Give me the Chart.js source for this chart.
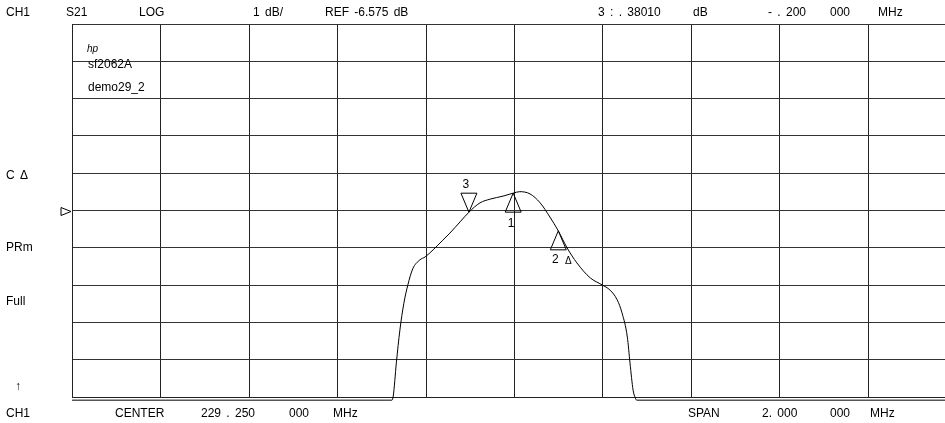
<!DOCTYPE html>
<html>
<head>
<meta charset="utf-8">
<script src="https://cdn.jsdelivr.net/npm/chart.js@4.4.1/dist/chart.umd.min.js"></script>
<style>
  html, body { margin: 0; padding: 0; background: #fff; overflow: hidden; width: 945px; height: 423px; }
  #wrap { position: relative; width: 945px; height: 423px; overflow: hidden; }
  #c { position: absolute; left: 0; top: 0; }
  .t { position: absolute; font-family: "Liberation Sans", Arial, sans-serif; font-size: 12px; line-height: 14px; color: #000; white-space: pre; word-spacing: 2px; }
</style>
</head>
<body>
<div id="wrap">
  <canvas id="c" width="960" height="423"></canvas>
  <!-- header line -->
  <div class="t" style="left:6px;top:5px">CH1</div>
  <div class="t" style="left:66px;top:5px">S21</div>
  <div class="t" style="left:139px;top:5px">LOG</div>
  <div class="t" style="left:253px;top:5px">1 dB/</div>
  <div class="t" style="left:325px;top:5px">REF -6.575 dB</div>
  <div class="t" style="left:598px;top:5px">3 : . 38010</div>
  <div class="t" style="left:693px;top:5px">dB</div>
  <div class="t" style="left:768px;top:5px">- . 200</div>
  <div class="t" style="left:830px;top:5px">000</div>
  <div class="t" style="left:878px;top:5px">MHz</div>
  <!-- left side -->
  <div class="t" style="left:6px;top:168px">C &#916;</div>
  <div class="t" style="left:6px;top:240px">PRm</div>
  <div class="t" style="left:6px;top:294px">Full</div>
  <div class="t" style="left:15px;top:379px">&#8593;</div>
  <!-- footer -->
  <div class="t" style="left:6px;top:406px">CH1</div>
  <div class="t" style="left:115px;top:406px">CENTER</div>
  <div class="t" style="left:201px;top:406px">229 . 250</div>
  <div class="t" style="left:289px;top:406px">000</div>
  <div class="t" style="left:333px;top:406px">MHz</div>
  <div class="t" style="left:688px;top:406px">SPAN</div>
  <div class="t" style="left:762px;top:406px">2. 000</div>
  <div class="t" style="left:830px;top:406px">000</div>
  <div class="t" style="left:870px;top:406px">MHz</div>
  <!-- title block inside the grid -->
  <div class="t" style="left:87px;top:42px;font-size:10px;font-style:italic">hp</div>
  <div class="t" style="left:88px;top:57px">sf2062A</div>
  <div class="t" style="left:88px;top:80px">demo29_2</div>
</div>
<script>
// sweep: center 229.25 MHz, span 2 MHz ; REF -6.575 dB, 1 dB/div
var freqTicks = [228.25, 228.45, 228.65, 228.85, 229.05, 229.25, 229.45, 229.65, 229.85, 230.05, 230.25];
var dbTicks = [-11.575, -10.575, -9.575, -8.575, -7.575, -6.575, -5.575, -4.575, -3.575, -2.575, -1.575];
var refLevel = -6.575;

// S21 trace (MHz, dB)
var traceFreq = [228.25, 228.973, 228.976, 228.983, 228.991, 229.000, 229.009, 229.020, 229.036, 229.048,
  229.066, 229.088, 229.104, 229.127, 229.147, 229.172, 229.195, 229.224, 229.247, 229.262,
  229.285, 229.308, 229.330, 229.348, 229.369, 229.391, 229.421, 229.448, 229.466, 229.482,
  229.493, 229.505, 229.511, 229.518, 229.523, 229.526, 230.25];
var traceDb = [-11.66, -11.66, -11.55, -10.66, -9.78, -9.06, -8.57, -8.14, -7.90, -7.82,
  -7.63, -7.37, -7.18, -6.88, -6.62, -6.37, -6.27, -6.19, -6.11, -6.07,
  -6.13, -6.37, -6.75, -7.10, -7.58, -7.98, -8.38, -8.57, -8.71, -8.97,
  -9.32, -9.97, -10.66, -11.39, -11.60, -11.66, -11.66];

// markers
var markerNames = ['1', '2', '3'];
var markerFreq = [229.247, 229.349, 229.147];
var markerDb = [-6.11, -7.12, -6.62];
var markerUp = [true, true, false];

var tracePts = [];
for (var i in traceFreq) {
  tracePts.push({x: traceFreq[i], y: traceDb[i]});
}

var markerPlugin = {
  id: 'markers',
  afterDatasetsDraw: function(chart) {
    var ctx = chart.ctx;
    var xs = chart.scales.x, ys = chart.scales.y;
    ctx.save();
    ctx.strokeStyle = '#000';
    ctx.fillStyle = '#000';
    ctx.lineWidth = 1;
    ctx.font = '12px "Liberation Sans", Arial, sans-serif';
    ctx.textAlign = 'center';
    ctx.textBaseline = 'middle';
    for (var m in markerNames) {
      var px = xs.getPixelForValue(markerFreq[m]);
      var py = ys.getPixelForValue(markerDb[m]);
      ctx.beginPath();
      if (markerUp[m]) {
        ctx.moveTo(px, py);
        ctx.lineTo(px - 8, py + 19);
        ctx.lineTo(px + 8, py + 19);
      } else {
        ctx.moveTo(px, py);
        ctx.lineTo(px - 8, py - 19);
        ctx.lineTo(px + 8, py - 19);
      }
      ctx.closePath();
      ctx.stroke();
      if (markerNames[m] == '1') {
        ctx.fillText('1', px - 2, py + 31);
      } else if (markerNames[m] == '2') {
        ctx.fillText('2', px - 3, py + 29);
        ctx.font = '10px "Liberation Sans", Arial, sans-serif';
        ctx.fillText('\u0394', px + 10, py + 30);
        ctx.font = '12px "Liberation Sans", Arial, sans-serif';
      } else {
        ctx.fillText('3', px - 3, py - 27);
      }
    }
    // reference position marker
    var ry = Math.round(ys.getPixelForValue(refLevel)) + 0.5;
    var lx = chart.chartArea.left;
    ctx.beginPath();
    ctx.moveTo(lx - 1, ry);
    ctx.lineTo(lx - 11, ry - 4);
    ctx.lineTo(lx - 11, ry + 4);
    ctx.closePath();
    ctx.stroke();
    ctx.restore();
  }
};

var config = {
  type: 'line',
  data: {
    datasets: [{
      label: 'S21',
      data: tracePts,
      borderColor: '#000',
      borderWidth: 1,
      pointRadius: 0,
      fill: false,
      cubicInterpolationMode: 'monotone',
      clip: {left: 0, top: 0, right: 0, bottom: 5}
    }]
  },
  options: {
    responsive: false,
    animation: false,
    devicePixelRatio: 1,
    layout: { padding: {left: 72, top: 24, right: 3, bottom: 26} },
    plugins: { legend: {display: false}, tooltip: {enabled: false} },
    scales: {
      x: {
        type: 'linear',
        min: freqTicks[0],
        max: freqTicks[freqTicks.length - 1],
        afterBuildTicks: function(s) { s.ticks = freqTicks.map(function(v) { return {value: v}; }); },
        ticks: {display: false},
        grid: {color: '#222', lineWidth: 1, drawTicks: false},
        border: {display: true, color: '#222'}
      },
      y: {
        type: 'linear',
        min: dbTicks[0],
        max: dbTicks[dbTicks.length - 1],
        afterBuildTicks: function(s) { s.ticks = dbTicks.map(function(v) { return {value: v}; }); },
        ticks: {display: false},
        grid: {color: '#333', lineWidth: 1, drawTicks: false},
        border: {display: true, color: '#222'}
      }
    }
  },
  plugins: [markerPlugin]
};

new Chart(document.getElementById('c').getContext('2d'), config);
</script>
</body>
</html>
